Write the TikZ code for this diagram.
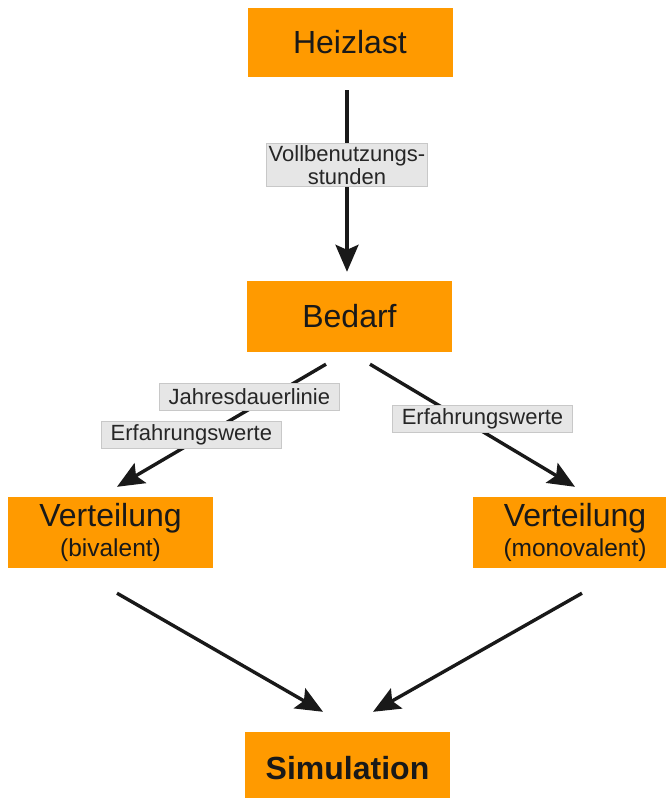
\documentclass[tikz,border=0pt]{standalone}
\usepackage{fontspec}
\setmainfont{Liberation Sans}
\usetikzlibrary{arrows.meta}
\definecolor{boxorange}{RGB}{255,154,0}
\definecolor{lblgray}{RGB}{230,230,230}
\definecolor{lbledge}{RGB}{200,200,200}
\tikzset{
	box/.style={fill=boxorange, minimum width=205pt, minimum height=71pt, inner sep=0pt, align=center, text=black!90, font=\fontsize{32}{34}\selectfont},
	lbl/.style={fill=lblgray, draw=lbledge, line width=0.8pt, inner xsep=9pt, inner ysep=2pt, minimum height=27pt, align=center, text=black!85, font=\fontsize{22}{24}\selectfont},
	arr/.style={-{Stealth[length=27pt,width=23pt,inset=5pt]}, line width=3.4pt, black!90}
}
\newcommand{\sub}[1]{\\[-4pt]{\fontsize{24.5}{26}\selectfont #1}}

\begin{document}
\begin{tikzpicture}[x=1pt, y=-1pt]
	\useasboundingbox (0,0) rectangle (666,798);
	\node (heizlast) at (350,42.5) [box, minimum height=69pt] {Heizlast};
	\node (bedarf) at (349.5,316.5) [box] {Bedarf};
		\node (biv) at (110.5,532.5) [box] {Verteilung\sub{(bivalent)}};
		\node (mono) at (575,532.5) [box] {Verteilung\sub{(monovalent)}};
	\node (simu) at (347.5,768) [box, minimum height=72pt, font=\fontsize{32}{34}\selectfont\bfseries] {Simulation};
	\draw[arr] ([xshift=-3pt,yshift=-13pt]heizlast.south) -- ([xshift=-2.5pt,yshift=9pt]bedarf.north)
		node [lbl, pos=0.41, inner xsep=2pt, font=\fontsize{22}{23}\selectfont] {Vollbenutzungs-\\stunden};
	\draw[arr] ([xshift=-23.5pt,yshift=-12pt]bedarf.south) -- ([xshift=6.5pt,yshift=10pt]biv.north)
		node [lbl, pos=0.264, xshift=-21.5pt] {Jahresdauerlinie}
		node [lbl, pos=0.577, xshift=-14pt] {Erfahrungswerte};
	\draw[arr] ([xshift=20.5pt,yshift=-12pt]bedarf.south) -- ([yshift=10pt]mono.north)
		node [lbl, pos=0.443, xshift=21.7pt] {Erfahrungswerte};
	\draw[arr] ([xshift=6.5pt,yshift=-25pt]biv.south) -- ([xshift=-24.5pt,yshift=20pt]simu.north);
	\draw[arr] ([xshift=7pt,yshift=-25pt]mono.south) -- ([xshift=25.5pt,yshift=20pt]simu.north);
\end{tikzpicture}
\end{document}
